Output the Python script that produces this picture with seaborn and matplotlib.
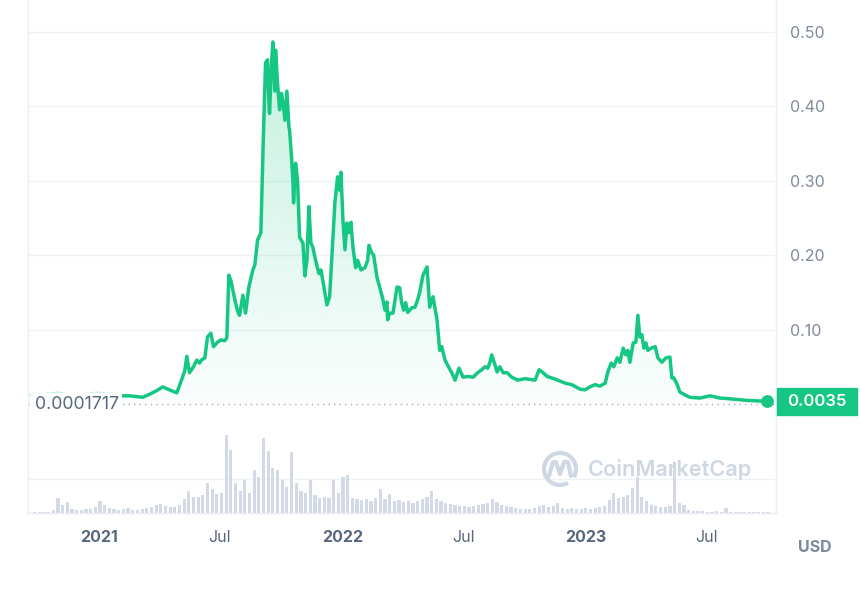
import matplotlib
matplotlib.use("Agg")
import matplotlib.pyplot as plt
import matplotlib.dates as mdates
import matplotlib.transforms as mtransforms
from matplotlib.patches import Rectangle, Arc
from matplotlib.lines import Line2D
import numpy as np
import pandas as pd
import seaborn as sns

# price history (USD)
price_dates = [
    "2021-02-06", "2021-02-16", "2021-03-08", "2021-03-18", "2021-03-29", "2021-04-07", "2021-04-17",
    "2021-04-28", "2021-05-05", "2021-05-10", "2021-05-13", "2021-05-17", "2021-05-23", "2021-05-28",
    "2021-06-01", "2021-06-04", "2021-06-09", "2021-06-13", "2021-06-18", "2021-06-22", "2021-06-28",
    "2021-07-03", "2021-07-09", "2021-07-12", "2021-07-15", "2021-07-18", "2021-07-24", "2021-07-28",
    "2021-07-31", "2021-08-05", "2021-08-09", "2021-08-14", "2021-08-20", "2021-08-23", "2021-08-27",
    "2021-09-01", "2021-09-05", "2021-09-08", "2021-09-11", "2021-09-13", "2021-09-14", "2021-09-17",
    "2021-09-19", "2021-09-22", "2021-09-23", "2021-09-26", "2021-09-29", "2021-10-02", "2021-10-05",
    "2021-10-07", "2021-10-10", "2021-10-13", "2021-10-14", "2021-10-17", "2021-10-19", "2021-10-20",
    "2021-10-23", "2021-10-26", "2021-10-29", "2021-11-03", "2021-11-06", "2021-11-09", "2021-11-12",
    "2021-11-15", "2021-11-18", "2021-11-22", "2021-11-27", "2021-11-30", "2021-12-03", "2021-12-06",
    "2021-12-09", "2021-12-13", "2021-12-18", "2021-12-21", "2021-12-25", "2021-12-28", "2021-12-30",
    "2022-01-02", "2022-01-05", "2022-01-08", "2022-01-11", "2022-01-14", "2022-01-17", "2022-01-21",
    "2022-01-24", "2022-01-29", "2022-02-04", "2022-02-08", "2022-02-10", "2022-02-14", "2022-02-17",
    "2022-02-22", "2022-02-26", "2022-03-03", "2022-03-06", "2022-03-09", "2022-03-10", "2022-03-13",
    "2022-03-18", "2022-03-24", "2022-03-28", "2022-03-31", "2022-04-03", "2022-04-06", "2022-04-09",
    "2022-04-15", "2022-04-20", "2022-04-24", "2022-04-27", "2022-05-02", "2022-05-08", "2022-05-12",
    "2022-05-17", "2022-05-23", "2022-05-27", "2022-05-30", "2022-06-04", "2022-06-08", "2022-06-14",
    "2022-06-19", "2022-06-25", "2022-07-01", "2022-07-08", "2022-07-16", "2022-07-23", "2022-07-29",
    "2022-08-03", "2022-08-07", "2022-08-10", "2022-08-13", "2022-08-18", "2022-08-21", "2022-08-25",
    "2022-08-30", "2022-09-05", "2022-09-12", "2022-09-21", "2022-10-02", "2022-10-17", "2022-10-23",
    "2022-10-29", "2022-11-04", "2022-11-11", "2022-11-20", "2022-12-01", "2022-12-11", "2022-12-23",
    "2022-12-31", "2023-01-07", "2023-01-15", "2023-01-22", "2023-01-30", "2023-02-03", "2023-02-08",
    "2023-02-12", "2023-02-17", "2023-02-21", "2023-02-26", "2023-03-02", "2023-03-05", "2023-03-08",
    "2023-03-13", "2023-03-17", "2023-03-20", "2023-03-23", "2023-03-26", "2023-03-29", "2023-04-01",
    "2023-04-04", "2023-04-09", "2023-04-15", "2023-04-19", "2023-04-25", "2023-05-01", "2023-05-07",
    "2023-05-10", "2023-05-13", "2023-05-18", "2023-05-22", "2023-05-30", "2023-06-06", "2023-06-21",
    "2023-07-06", "2023-07-21", "2023-08-05", "2023-08-28", "2023-09-30",
]
price_values = [
    0.011, 0.011, 0.009, 0.013, 0.018, 0.023, 0.019,
    0.015, 0.032, 0.045, 0.064, 0.042, 0.050, 0.059,
    0.055, 0.059, 0.062, 0.090, 0.095, 0.077, 0.083,
    0.086, 0.085, 0.089, 0.173, 0.166, 0.140, 0.125,
    0.119, 0.146, 0.122, 0.157, 0.180, 0.187, 0.220,
    0.230, 0.368, 0.458, 0.462, 0.404, 0.390, 0.458,
    0.486, 0.420, 0.475, 0.430, 0.395, 0.417, 0.399,
    0.381, 0.420, 0.372, 0.368, 0.330, 0.300, 0.270,
    0.323, 0.300, 0.224, 0.216, 0.172, 0.193, 0.265,
    0.216, 0.210, 0.193, 0.175, 0.180, 0.165, 0.149,
    0.133, 0.144, 0.224, 0.271, 0.305, 0.287, 0.311,
    0.247, 0.207, 0.243, 0.230, 0.244, 0.210, 0.183,
    0.193, 0.180, 0.183, 0.193, 0.213, 0.203, 0.200,
    0.170, 0.157, 0.140, 0.126, 0.137, 0.113, 0.122,
    0.122, 0.157, 0.156, 0.136, 0.126, 0.136, 0.123,
    0.129, 0.130, 0.140, 0.150, 0.173, 0.184, 0.130,
    0.144, 0.113, 0.072, 0.077, 0.059, 0.052, 0.042,
    0.032, 0.048, 0.036, 0.037, 0.036, 0.042, 0.046,
    0.050, 0.048, 0.055, 0.066, 0.052, 0.043, 0.050,
    0.042, 0.042, 0.036, 0.032, 0.034, 0.032, 0.046,
    0.042, 0.037, 0.035, 0.032, 0.028, 0.026, 0.020,
    0.019, 0.023, 0.026, 0.024, 0.028, 0.043, 0.055,
    0.050, 0.062, 0.056, 0.075, 0.066, 0.072, 0.056,
    0.082, 0.083, 0.119, 0.090, 0.093, 0.075, 0.082,
    0.072, 0.075, 0.077, 0.062, 0.056, 0.062, 0.063,
    0.035, 0.035, 0.026, 0.016, 0.012, 0.009, 0.008,
    0.011, 0.008, 0.007, 0.005, 0.0035,
]

# faded stretch before the selected range
faint_dates = ["2020-09-17", "2020-10-12", "2020-11-01", "2020-11-11", "2020-12-04",
               "2020-12-30", "2021-01-17", "2021-02-06"]
faint_values = [0.012, 0.013, 0.015, 0.013, 0.012, 0.015, 0.013, 0.011]

# weekly volume (relative bar height)
volume_start = "2020-09-27"
volume_values = [
    1, 1, 1, 1, 3, 15, 8, 11, 4, 3, 3, 4, 4, 6, 12, 8, 5, 4, 3, 4,
    5, 3, 3, 4, 5, 6, 8, 9, 7, 6, 6, 8, 14, 22, 16, 16, 18, 30, 24, 19,
    20, 78, 63, 30, 22, 33, 20, 43, 36, 75, 62, 45, 43, 33, 26, 61, 30, 22, 20, 33,
    18, 15, 16, 15, 33, 20, 36, 38, 15, 14, 13, 14, 12, 15, 24, 14, 19, 12, 13, 11,
    12, 10, 12, 14, 16, 22, 14, 12, 10, 9, 8, 7, 7, 6, 7, 8, 9, 10, 14, 11,
    8, 7, 6, 5, 4, 4, 4, 5, 7, 8, 6, 7, 10, 5, 4, 5, 4, 4, 5, 4,
    5, 6, 7, 13, 20, 15, 16, 18, 25, 36, 16, 12, 8, 7, 6, 6, 7, 51, 10, 8,
    3, 2, 2, 2, 1, 1, 2, 1, 5, 1, 1, 1, 1, 1, 1, 1, 1, 1,
]
volume_grid = 34

min_price = 0.0001717
last_price = 0.0035
tick_dates = ["2021-01-01", "2021-07-01", "2022-01-01", "2022-07-01", "2023-01-01", "2023-07-01"]
tick_labels = ["2021", "Jul", "2022", "Jul", "2023", "Jul"]
price_ticks = [0.10, 0.20, 0.30, 0.40, 0.50]

GREEN = "#16c784"
GRID = "#eff2f5"
LABEL = "#58667e"
MUTED = "#808a9d"

sns.set_theme(style="white")
plt.rcParams["font.family"] = ["Inter", "DejaVu Sans"]

W, H = 860, 596
fig = plt.figure(figsize=(W / 100, H / 100), dpi=100)
rect = [28 / W, 1 - 513 / H, 748 / W, 513 / H]

# volume axes underneath
ax_v = fig.add_axes(rect)
vol_dates = pd.date_range(volume_start, periods=len(volume_values), freq="7D")
ax_v.bar(vol_dates, volume_values, width=4.8, color="#d3d9e6", linewidth=0)
ax_v.axhline(volume_grid, color=GRID, lw=1, zorder=0)
ax_v.set_ylim(0, 513)
ax_v.set_yticks([])
for s in ax_v.spines.values():
    s.set_visible(False)

# price axes on top
ax = fig.add_axes(rect, sharex=ax_v)
ax.set_facecolor("none")

pdates = pd.to_datetime(price_dates)
fill = ax.fill_between(pdates, price_values, min_price, color="none", lw=0)
grad = np.zeros((256, 1, 4))
grad[:, 0, 0:3] = matplotlib.colors.to_rgb(GREEN)
grad[:, 0, 3] = np.linspace(0.02, 0.26, 256)
x0, x1 = mdates.date2num(pdates[0]), mdates.date2num(pdates[-1])
img = ax.imshow(grad, extent=[x0, x1, min_price, 0.5], origin="lower",
                aspect="auto", zorder=1)
img.set_clip_path(fill.get_paths()[0], transform=ax.transData)

sns.lineplot(x=pd.to_datetime(faint_dates), y=faint_values, ax=ax,
             color="#cdf1e1", linewidth=2.2, zorder=2)
sns.lineplot(x=pdates, y=price_values, ax=ax, color=GREEN, linewidth=2.5, zorder=3)
ax.scatter([pdates[-1]], [last_price], s=85, color=GREEN, zorder=5, linewidths=0)

ax.axhline(min_price, color="#a6b0c3", lw=1, ls=(0, (1, 3)), zorder=2)

blend = mtransforms.blended_transform_factory(ax.transAxes, ax.transData)
ax.text(0.009, min_price - 0.0015, "0.0001717", transform=blend, ha="left", va="center",
        fontsize=12.8, color=LABEL, zorder=4,
        bbox=dict(boxstyle="square,pad=0.2", fc="white", ec="none"))

ax.add_patch(Rectangle((1.0013, last_price - 0.0181), 0.107, 0.0362, transform=blend,
                       color=GREEN, clip_on=False, zorder=5))
ax.text(1.0548, last_price, "0.0035", transform=blend, ha="center", va="center",
        fontsize=12, color="white", fontweight="semibold", zorder=6, clip_on=False)

ax.set_ylim(-0.1463, 0.5423)
ax.set_xlim(pd.Timestamp("2020-09-17"), pd.Timestamp("2023-10-13"))
ax.yaxis.tick_right()
ax.set_yticks(price_ticks)
ax.set_yticklabels([f"{v:.2f}" for v in price_ticks])
ax.tick_params(axis="y", length=0, pad=10, labelsize=11.5, labelcolor=MUTED)
ax.grid(axis="y", color=GRID, lw=1)
ax.grid(axis="x", visible=False)

ax.set_xticks(pd.to_datetime(tick_dates))
ax.set_xticklabels(tick_labels)
ax.tick_params(axis="x", length=4, color="#e3e7ee", pad=8, labelsize=11.5, labelcolor=LABEL)
for lbl in ax.get_xticklabels():
    if lbl.get_text().isdigit():
        lbl.set_fontweight("bold")
ax_v.tick_params(axis="x", length=0, labelbottom=False)

for side in ["left", "right", "bottom"]:
    ax.spines[side].set_color("#eaedf2")
    ax.spines[side].set_linewidth(1)
ax.spines["top"].set_visible(False)
ax.set_xlabel("")
ax.set_ylabel("")

# watermark
wm = "#cfd6e4"
ident = mtransforms.IdentityTransform()
fig.add_artist(Arc((560, H - 469), 32, 32, theta1=-30, theta2=300, transform=ident,
                   color=wm, lw=3))
zig_x = np.array([549, 553, 556, 560, 564, 568, 571])
zig_y = H - np.array([476, 462, 462, 474, 462, 462, 476])
fig.add_artist(Line2D(zig_x, zig_y, transform=ident, color=wm, lw=3))
fig.text(588 / W, 1 - 470 / H, "CoinMarketCap", fontsize=15.6, color=wm,
         fontweight="semibold", ha="left", va="center")

fig.text(815 / W, 1 - 548 / H, "USD", fontsize=11.5, color="#7d879b",
         fontweight="bold", ha="center", va="center")

fig.savefig("out.png", dpi=100)
